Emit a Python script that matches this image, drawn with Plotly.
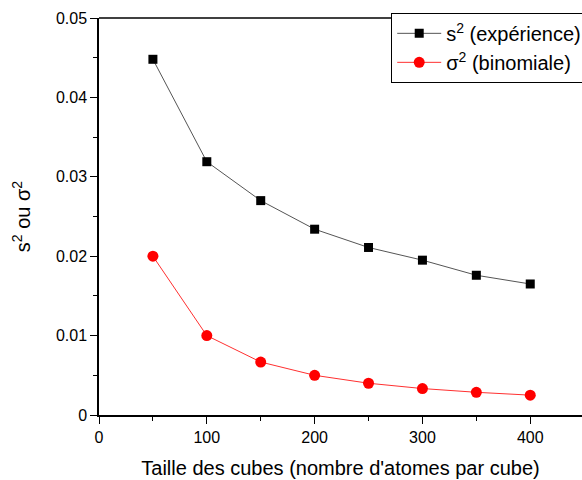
import plotly.graph_objects as go

taille = [50, 100, 150, 200, 250, 300, 350, 400]
s2_experience = [0.0448, 0.0319, 0.0270, 0.0234, 0.0211, 0.0195, 0.0176, 0.0165]
sigma2_binomiale = [0.0200, 0.0100, 0.00667, 0.00500, 0.00400, 0.00333, 0.00286, 0.00250]

font_family = "Liberation Sans, Arial, sans-serif"

fig = go.Figure()
fig.add_trace(go.Scatter(
    x=taille, y=s2_experience, mode="lines+markers",
    name="s<sup>2</sup> (expérience)",
    line=dict(color="#555555", width=1),
    marker=dict(symbol="square", size=9, color="black"),
))
fig.add_trace(go.Scatter(
    x=taille, y=sigma2_binomiale, mode="lines+markers",
    name="σ<sup>2</sup> (binomiale)",
    line=dict(color="#ff3030", width=1),
    marker=dict(symbol="circle", size=11, color="#ff0000"),
))

fig.update_layout(
    width=582, height=480,
    margin=dict(l=99, r=0, t=18, b=65, autoexpand=False),
    paper_bgcolor="white", plot_bgcolor="white",
    font=dict(family=font_family, size=16, color="black"),
    showlegend=True,
    legend=dict(
        x=0.605, y=1.013, xanchor="left", yanchor="top",
        bordercolor="black", borderwidth=1, bgcolor="white",
        font=dict(size=20), tracegroupgap=0, itemwidth=44,
    ),
    xaxis=dict(
        range=[0, 448], tickvals=[0, 100, 200, 300, 400],
        showgrid=False, zeroline=False,
        showline=True, linecolor="black", linewidth=1.5,
        ticks="outside", ticklen=7, tickwidth=1.2, tickcolor="black",
        minor=dict(dtick=50, tick0=0, ticks="outside", ticklen=4, tickcolor="black"),
        title=dict(text="Taille des cubes (nombre d'atomes par cube)", font=dict(size=20), standoff=16),
        tickfont=dict(size=16),
    ),
    yaxis=dict(
        range=[0, 0.05], tickvals=[0, 0.01, 0.02, 0.03, 0.04, 0.05],
        ticktext=["0", "0.01", "0.02", "0.03", "0.04", "0.05"],
        showgrid=False, zeroline=False,
        showline=True, linecolor="black", linewidth=1.5,
        ticks="outside", ticklen=7, tickwidth=1.2, tickcolor="black",
        minor=dict(dtick=0.005, tick0=0, ticks="outside", ticklen=4, tickcolor="black"),
        title=dict(text="s<sup>2</sup> ou σ<sup>2</sup>", font=dict(size=20), standoff=20),
        tickfont=dict(size=16),
    ),
)
fig.add_shape(type="line", xref="x domain", yref="y domain",
              x0=0, x1=1, y0=1, y1=1, line=dict(color="black", width=1.5))

fig.write_html(
    "out.html",
    config={"displayModeBar": False},
    post_script="document.body.style.margin='0';document.body.style.overflow='hidden';",
)
